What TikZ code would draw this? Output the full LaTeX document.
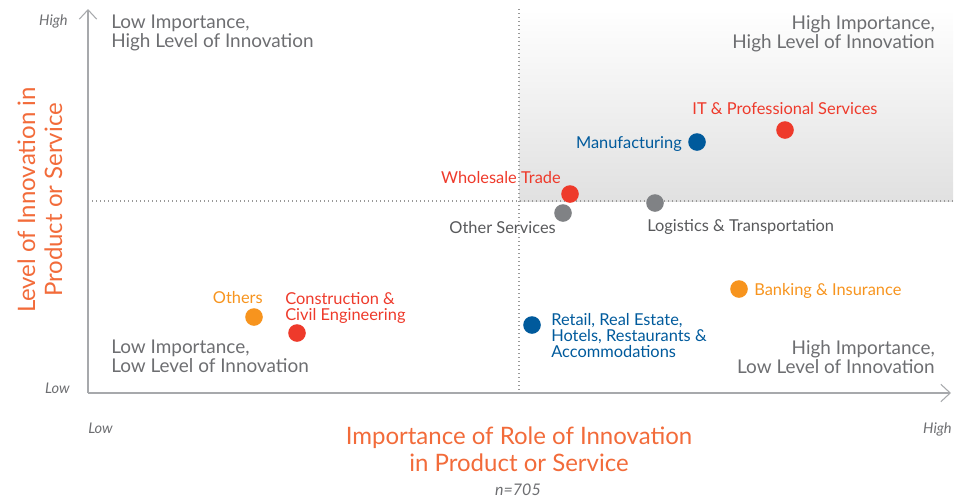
\documentclass[tikz,border=0pt]{standalone}
\usepackage{fontspec}
\setmainfont{Lato}
\usetikzlibrary{arrows.meta}
\definecolor{ptred}{HTML}{EE3A2B}
\definecolor{ptorange}{HTML}{F7941E}
\definecolor{ptblue}{HTML}{005A9C}
\definecolor{ptgray}{HTML}{808285}
\definecolor{labgray}{HTML}{58595B}
\definecolor{quadgray}{HTML}{6D6E71}
\definecolor{titleorange}{HTML}{F26B3A}
\definecolor{axisgray}{HTML}{A7A9AC}
\tikzset{
  dot/.style={circle, fill=#1, inner sep=0pt, minimum size=13.2pt},
  ptlabel/.style={text=#1, font=\fontsize{12.3}{12}\selectfont, inner sep=0pt, align=left},
  quadlabel/.style={text=quadgray, font=\fontsize{14.2}{14.25}\selectfont, inner sep=0pt},
  ticklabel/.style={text=quadgray, font=\fontsize{11}{12}\selectfont\itshape, inner sep=0pt},
  axistitle/.style={text=titleorange, font=\fontsize{18}{20.25}\selectfont, inner sep=0pt, align=center},
  axisline/.style={draw=axisgray, line width=0.8pt, -{Straight Barb[length=7pt,width=13pt]}},
  guide/.style={draw=black!40, line width=0.8pt, dash pattern=on 0.8pt off 2.2pt},
}

\begin{document}
\begin{tikzpicture}[x=0.75pt, y=-0.75pt]
\useasboundingbox (0,0) rectangle (968,497);
\shade[shading angle=-45, top color=white, bottom color=black!12] (519,9) rectangle (953,201);
\coordinate (origin) at (88,393);
\coordinate (ytop) at (88,9);
\coordinate (xend) at (951,393);
\coordinate (midtop) at (519,9);
\coordinate (midbot) at (519,393);
\coordinate (midleft) at (88,201);
\coordinate (midright) at (953,201);
\draw[guide] (midtop) -- (midbot);
\draw[guide] (midleft) -- (midright);
\draw[axisline] (origin) -- (ytop);
\draw[axisline] (origin) -- (xend);

\node[ticklabel, anchor=base east] (yhigh) at (68,25) {High};
\node[ticklabel, anchor=base east] (ylow) at (70,393) {Low};
\node[ticklabel, anchor=base west] (xlow) at (88,433) {Low};
\node[ticklabel, anchor=base east] (xhigh) at (952,433) {High};

\node[quadlabel, align=left, anchor=north west] (qtl) at (111,15) {Low Importance,\\High Level of Innovation};
\node[quadlabel, align=right, anchor=north east] (qtr) at (935,15) {High Importance,\\High Level of Innovation};
\node[quadlabel, align=left, anchor=north west] (qbl) at (111,340) {Low Importance,\\Low Level of Innovation};
\node[quadlabel, align=right, anchor=north east] (qbr) at (935,340) {High Importance,\\Low Level of Innovation};

\node[axistitle, anchor=north] (xtitle) at (519,427) {Importance of Role of Innovation\\in Product or Service};
\node[axistitle, anchor=center, rotate=90] (ytitle) at (40,200) {Level of Innovation in\\Product or Service};
\node[ticklabel, font=\fontsize{12}{12}\selectfont\itshape, anchor=base] (nsize) at (518,495) {n=705};

\foreach \nm/\px/\py/\cl in {it/785/130/ptred, man/697/142/ptblue, whole/570/194/ptred,
    other/563/213/ptgray, logi/655/203/ptgray, bank/739/289/ptorange,
    retail/532/325/ptblue, constr/297/333/ptred, others/254/317/ptorange}
  \node[dot=\cl] (\nm) at (\px,\py) {};

\node[ptlabel=ptred, anchor=base] (itlab) at (785,114) {IT \& Professional Services};
\node[ptlabel=ptblue, anchor=base east] (manlab) at (682,148) {Manufacturing};
\node[ptlabel=ptred, anchor=base east] (wholelab) at (561,183) {Wholesale Trade};
\node[ptlabel=labgray, anchor=base east] (otherlab) at (556,233) {Other Services};
\node[ptlabel=labgray, anchor=base west] (logilab) at (647,231) {Logistics \& Transportation};
\node[ptlabel=ptorange, anchor=base west] (banklab) at (754,295) {Banking \& Insurance};
\node[ptlabel=ptblue, anchor=north west] (retaillab) at (551,313) {Retail, Real Estate,\\Hotels, Restaurants \&\\Accommodations};
\node[ptlabel=ptred, anchor=north west] (constrlab) at (285,292) {Construction \&\\Civil Engineering};
\node[ptlabel=ptorange, anchor=base east] (otherslab) at (263,303) {Others};
\end{tikzpicture}
\end{document}
